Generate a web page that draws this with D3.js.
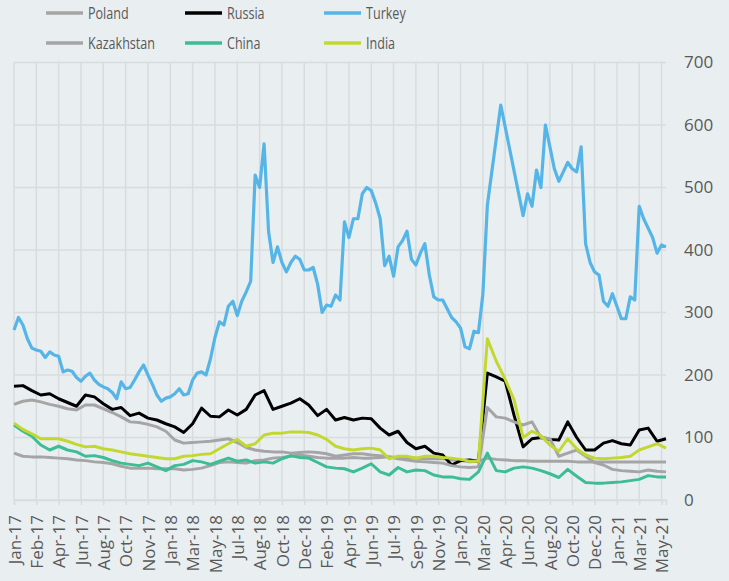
<!DOCTYPE html>
<html>
<head>
<meta charset="utf-8">
<script src="https://cdn.jsdelivr.net/npm/d3@7"></script>
<style>
  body { margin: 0; background: #e9eef1; }
  text { font-family: "Open Sans", sans-serif; fill: #595959; }
</style>
</head>
<body>
<div id="chart"></div>
<script>
let width = 729;
let height = 581;

// first day of the series, samples every 11 days (Turkey) / 22 days (others)
let startDate = new Date(2017, 0, 2);
let dates = d3.range(147).map(function(i) { return d3.timeDay.offset(startDate, 11 * i); });
let datesCoarse = dates.filter(function(d, i) { return i % 2 === 0; });

// axis labels, one every 55 days
let tickLabels = ["Jan-17","Feb-17","Apr-17","Jun-17","Aug-17","Oct-17","Nov-17","Jan-18","Mar-18","May-18",
  "Jul-18","Aug-18","Oct-18","Dec-18","Feb-19","Apr-19","Jun-19","Jul-19","Sep-19","Nov-19",
  "Jan-20","Mar-20","Apr-20","Jun-20","Aug-20","Oct-20","Dec-20","Jan-21","Mar-21","May-21"];
let tickDates = tickLabels.map(function(d, i) { return d3.timeDay.offset(startDate, 55 * i); });
let yTicks = [0, 100, 200, 300, 400, 500, 600, 700];

let poland = [75,70,69,69,68,67,66,64,63,61, 60,58,54,51,51,51,50,50,50,48,
  49,51,55,60,61,60,59,63,64,67, 68,70,72,70,68,67,67,67,68,67,
  67,68,69,68,68,67,66,66,66,64, 63,61,62,67,65,64,63,63,62,62,
  62,62,62,61,61,61,61,61,61,61, 61,61,61,61];

let russia = [182,183,175,168,170,162,156,150,168,165, 154,145,148,135,139,131,128,122,117,108,
  122,147,134,133,144,136,145,168,175,145, 150,155,162,152,135,145,128,132,128,131,
  130,115,104,110,92,82,86,75,72,56, 63,64,62,203,197,190,135,85,98,100,
  97,96,125,100,80,80,91,95,90,88, 112,115,94,98];

let kazakhstan = [153,158,160,157,153,150,146,144,152,152, 146,140,133,125,124,121,117,110,96,91,
  92,93,94,96,98,92,84,80,78,77, 77,75,76,77,76,74,70,72,74,74,
  72,71,69,66,64,62,61,60,59,55, 53,52,53,148,133,131,125,120,125,100,
  98,70,75,80,70,60,56,49,47,46, 45,48,46,45];

let china = [120,110,102,88,80,86,80,77,70,71, 68,63,59,57,55,59,53,47,55,57,
  63,61,57,62,67,62,64,59,61,59, 66,71,68,67,60,53,51,50,45,51,
  58,45,40,52,45,48,47,40,37,37, 34,33,45,75,47,45,51,53,51,47,
  42,36,49,38,28,27,27,28,29,31, 33,39,37,37];

let india = [123,113,106,98,98,98,94,89,85,86, 82,80,77,74,72,70,68,66,66,70,
  71,73,74,82,90,97,86,90,104,107, 107,109,109,108,104,97,86,82,80,82,
  83,80,66,70,70,67,70,70,68,67, 65,62,62,258,222,193,160,100,110,103,
  88,78,98,82,72,67,66,67,68,70, 80,85,90,83];

// Turkey on the finer grid, null where data is missing
let turkey = [272,292,280,258,243,240,238,228,237,232,
  230,205,208,206,196,190,198,203,192,185,
  181,178,172,162,189,178,180,192,205,216,
  200,185,168,158,163,165,170,178,168,170,
  192,203,205,200,226,260,285,280,310,318,
  295,318,333,350,520,500,570,430,380,405,
  380,365,380,390,385,368,368,372,345,300,
  312,310,328,320,445,420,450,450,490,500,
  495,475,450,375,390,358,405,415,430,385,
  376,395,410,360,325,320,320,306,292,285,
  275,245,242,270,268,330,472,null,null,632,
  null,null,null,null,455,490,470,528,500,600,
  565,530,510,525,540,530,525,565,410,380,
  365,360,318,310,330,310,290,290,325,320,
  470,450,435,420,395,408,405];

let series = [
  { name: "Poland", values: poland, dates: datesCoarse, color: "#a5a5a5" },
  { name: "Russia", values: russia, dates: datesCoarse, color: "#000000" },
  { name: "Turkey", values: turkey, dates: dates, color: "#55b5e6" },
  { name: "Kazakhstan", values: kazakhstan, dates: datesCoarse, color: "#a5a5a5" },
  { name: "China", values: china, dates: datesCoarse, color: "#3dbd93" },
  { name: "India", values: india, dates: datesCoarse, color: "#c3d82f" }
];

let svg = d3.select("#chart")
  .append("svg")
  .attr("width", width)
  .attr("height", height);

svg.append("rect")
  .attr("width", width)
  .attr("height", height)
  .attr("fill", "#e9eef1");

let x = d3.scaleTime()
  .domain([startDate, dates[dates.length - 1]])
  .range([14, 666]);

let y = d3.scaleLinear()
  .domain([0, 700])
  .range([500, 62.5]);

// grid
let grid = svg.append("g").attr("class", "grid");
grid.selectAll("line.h")
  .data(yTicks)
  .enter().append("line")
    .attr("class", "h")
    .attr("x1", x.range()[0])
    .attr("x2", x.range()[1])
    .attr("y1", function(d) { return y(d); })
    .attr("y2", function(d) { return y(d); })
    .attr("stroke", "#d8dcdf")
    .attr("stroke-width", 1.5);
grid.selectAll("line.v")
  .data(tickDates)
  .enter().append("line")
    .attr("class", "v")
    .attr("x1", function(d) { return x(d); })
    .attr("x2", function(d) { return x(d); })
    .attr("y1", y(700))
    .attr("y2", y(0))
    .attr("stroke", "#d8dcdf")
    .attr("stroke-width", 1.5);

// bottom axis
let xAxis = d3.axisBottom(x)
  .tickValues(tickDates)
  .tickSize(5)
  .tickFormat(function(d, i) { return tickLabels[i]; });

let gx = svg.append("g")
  .attr("transform", "translate(0," + y(0) + ")")
  .call(xAxis);
gx.select(".domain").attr("stroke", "#d8dcdf").attr("stroke-width", 1.5);
gx.selectAll(".tick line").attr("stroke", "#d8dcdf").attr("stroke-width", 1.5);
gx.selectAll(".tick text")
  .attr("font-size", 17)
  .attr("fill", "#595959")
  .attr("text-anchor", "end")
  .attr("transform", "translate(0,15) rotate(-90)")
  .attr("x", 0)
  .attr("y", 0)
  .attr("dy", "0.36em");

// right axis
let yAxis = d3.axisRight(y)
  .tickValues(yTicks)
  .tickSize(0)
  .tickPadding(18);
let gy = svg.append("g")
  .attr("transform", "translate(666,0)")
  .call(yAxis);
gy.select(".domain").remove();
gy.selectAll(".tick text")
  .attr("font-size", 17)
  .attr("fill", "#595959");

// lines
let line = d3.line()
  .x(function(d) { return x(d.date); })
  .y(function(d) { return y(d.value); });

svg.append("g")
  .selectAll("path")
  .data(series)
  .enter().append("path")
    .attr("fill", "none")
    .attr("stroke", function(d) { return d.color; })
    .attr("stroke-width", function(d) { return d.name === "Turkey" ? 3.2 : 3; })
    .attr("stroke-linejoin", "round")
    .attr("d", function(d) {
      let pts = d.values
        .map(function(v, i) { return { date: d.dates[i], value: v }; })
        .filter(function(p) { return p.value !== null; });
      return line(pts);
    });

// legend, three columns, two rows (narrow lettering)
let legend = svg.append("g").attr("class", "legend");
let items = legend.selectAll("g")
  .data(series)
  .enter().append("g")
    .attr("transform", function(d, i) {
      let col = i % 3, row = Math.floor(i / 3);
      return "translate(" + (46 + col * 139) + "," + (13 + row * 30) + ")";
    });
items.append("line")
  .attr("x1", 0)
  .attr("x2", 37)
  .attr("stroke", function(d) { return d.color; })
  .attr("stroke-width", 3.5);
items.append("text")
  .attr("transform", "translate(42,0) scale(0.74,1)")
  .attr("dy", "0.36em")
  .attr("font-size", 17)
  .text(function(d) { return d.name; });
</script>
</body>
</html>
